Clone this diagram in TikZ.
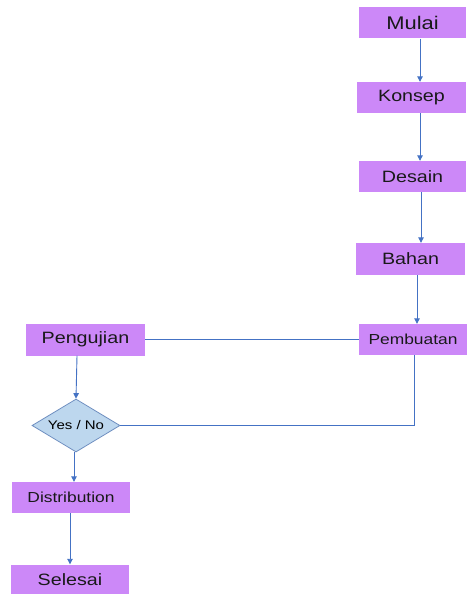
\documentclass[tikz,border=0pt]{standalone}
\usepackage{fontspec}
\setmainfont{Liberation Sans}[FakeStretch=1.2]
\usetikzlibrary{shapes.geometric}
\usetikzlibrary{arrows.meta}
\definecolor{boxviolet}{HTML}{CC88F8}
\definecolor{linkblue}{HTML}{4472C4}
\definecolor{diafill}{HTML}{BDD7EE}
\definecolor{diadraw}{HTML}{6F8FC0}
\tikzset{% 
	box/.style={fill=boxviolet,minimum height=31pt,inner sep=0pt,text=black!90,font=\fontsize{16.4}{18}\selectfont},
	decision/.style={diamond,fill=diafill,draw=diadraw,line width=0.8pt,minimum width=88pt,minimum height=53pt,inner sep=0pt,aspect=1.66,font=\fontsize{12.5}{14}\selectfont},
	arrow/.style={linkblue,line width=0.9pt,-{Triangle[length=5.5pt,width=5.5pt]}},
	link/.style={linkblue,line width=0.7pt}
}
\begin{document}
\begin{tikzpicture}[x=1pt,y=-1pt]
		\useasboundingbox (0,0) rectangle (467,594);

		\node [box,minimum width=107pt,font=\fontsize{18.3}{20}\selectfont] (mulai) at (412.5,23) {Mulai};
		\node [box,minimum width=109pt] (konsep) at (411.5,97.5) {Konsep};
		\node [box,minimum width=107pt] (desain) at (412.5,176.5) {Desain};
		\node [box,minimum width=109pt,minimum height=32pt] (bahan) at (410.5,259) {Bahan};
		\node [box,minimum width=108pt,font=\fontsize{14.5}{16}\selectfont] (pembuatan) at (413,339.5) {Pembuatan};
		\node [box,minimum width=119pt,minimum height=32pt] (pengujian) at (85.5,339.5) {Pengujian};
		\node [decision] (cek) at (76,425.5) {Yes / No};
		\node [box,minimum width=118pt,font=\fontsize{14.5}{16}\selectfont] (distribusi) at (71,497.5) {Distribution};
		\node [box,minimum width=118pt,minimum height=30pt] (selesai) at (70,579.5) {Selesai};

		\coordinate (balik) at (414,425.5);

		\draw [arrow] ([xshift=7.5pt]mulai.south) -- ([xshift=8.5pt]konsep.north);
		\draw [arrow] ([xshift=8.5pt]konsep.south) -- ([xshift=7.5pt]desain.north);
		\draw [arrow] ([xshift=8.5pt]desain.south) -- ([xshift=10.5pt]bahan.north);
		\draw [arrow] ([xshift=6.5pt]bahan.south) -- ([xshift=4pt]pembuatan.north);
		\draw [link] (pengujian.east) -- (pengujian.east -| pembuatan.west);
		\draw [arrow] ([xshift=-8.5pt]pengujian.south) -- (cek.north);
		\draw [link] (cek.east) -- (balik) -- (balik |- pembuatan.south);
		\draw [arrow] ([xshift=-2pt]cek.south) -- ([xshift=3pt]distribusi.north);
		\draw [arrow] ([xshift=-1pt]distribusi.south) -- (selesai.north);

	\end{tikzpicture}
\end{document}
